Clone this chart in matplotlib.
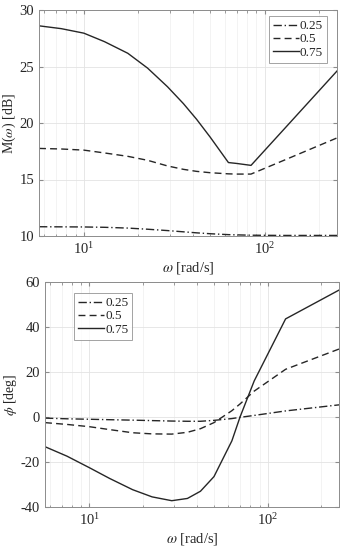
import matplotlib
matplotlib.use("Agg")
import matplotlib.pyplot as plt
from matplotlib.ticker import LogLocator, NullFormatter

plt.rcParams['font.family'] = ['Liberation Serif', 'DejaVu Serif']
plt.rcParams['mathtext.fontset'] = 'stix'

# frequency (rad/s)
omega = [5.65, 7.5, 10, 13, 17.5, 22.5, 29, 35.5, 42, 50, 63, 70, 84, 126, 251]
labels = ['0.25', '0.5', '0.75']

# magnitude [dB]
mag_025 = [10.82, 10.81, 10.8, 10.77, 10.7, 10.6, 10.48, 10.37, 10.28, 10.2, 10.12, 10.1, 10.07, 10.05, 10.05]
mag_050 = [17.75, 17.7, 17.6, 17.35, 17.05, 16.7, 16.2, 15.9, 15.72, 15.6, 15.5, 15.48, 15.48, 16.66, 18.68]
mag_075 = [28.6, 28.35, 27.95, 27.2, 26.17, 24.86, 23.21, 21.72, 20.33, 18.74, 16.5, 16.42, 16.25, 19.34, 24.6]

# phase [deg]
ph_025 = [-0.5, -0.8, -1.0, -1.2, -1.4, -1.6, -1.8, -1.9, -1.9, -1.5, -0.7, -0.15, 0.7, 2.7, 5.4]
ph_050 = [-2.5, -3.3, -4.3, -5.6, -7.0, -7.5, -7.6, -6.8, -5.2, -2.5, 2.8, 5.8, 11.5, 21.2, 30.2]
ph_075 = [-13.2, -17.4, -22.5, -27.3, -32.3, -35.5, -37.2, -36.2, -33.0, -26.5, -10.6, 0.0, 16.0, 43.6, 56.4]

styles = [(0, (6, 2, 1, 2)), (0, (5, 3)), '-']
lc = '#262626'
spine_c = '#8c8c8c'

fig = plt.figure(figsize=(3.47, 5.5), dpi=100)
ax1 = fig.add_axes([39/347, 1-236/550, 298/347, 226/550])
ax2 = fig.add_axes([45/347, 1-507/550, 294/347, 225/550])

def style(ax, ylim, yticks, ylabel):
    ax.set_xscale('log')
    ax.set_xlim(omega[0], omega[-1])
    ax.set_ylim(*ylim)
    ax.set_yticks(yticks)
    ax.set_yticklabels([str(t) for t in yticks])
    ax.xaxis.set_minor_locator(LogLocator(base=10, subs=range(2, 10)))
    ax.xaxis.set_minor_formatter(NullFormatter())
    ax.grid(True, which='major', color='#e3e3e3', lw=0.6)
    ax.grid(True, which='minor', axis='x', color='#efefef', lw=0.5)
    ax.set_axisbelow(True)
    for s in ax.spines.values():
        s.set_color(spine_c)
        s.set_linewidth(0.7)
    ax.tick_params(which='both', direction='in', top=True, right=True,
                   colors=spine_c, labelcolor=lc, labelsize=10.5)
    ax.tick_params(which='major', length=3)
    ax.tick_params(which='minor', length=1.8)
    ax.set_xlabel(r'$\omega$ [rad/s]', fontsize=10.5, color=lc, labelpad=2)
    ax.set_ylabel(ylabel, fontsize=10, color=lc, labelpad=1)

for y, ls, lab in zip([mag_025, mag_050, mag_075], styles, labels):
    ax1.plot(omega, y, color=lc, ls=ls, lw=1.0, label=lab)
for y, ls, lab in zip([ph_025, ph_050, ph_075], styles, labels):
    ax2.plot(omega, y, color=lc, ls=ls, lw=1.0, label=lab)

style(ax1, (10, 30), [10, 15, 20, 25, 30], r'M($\omega$) [dB]')
style(ax2, (-40, 60), [-40, -20, 0, 20, 40, 60], r'$\phi$ [deg]')

def leg(ax, loc, anchor):
    L = ax.legend(loc=loc, bbox_to_anchor=anchor, fontsize=9.5, frameon=True,
                  fancybox=False, edgecolor=spine_c, handlelength=2.0,
                  handletextpad=0.05, borderpad=0.3, labelspacing=0.08,
                  borderaxespad=0.0)
    L.get_frame().set_linewidth(0.7)
    for t in L.get_texts():
        t.set_color(lc)

leg(ax1, 'upper right', (1 - 10/298, 1 - 6/226))
leg(ax2, 'upper left', (29/294, 1 - 11/225))

fig.savefig('out.png', dpi=100)
